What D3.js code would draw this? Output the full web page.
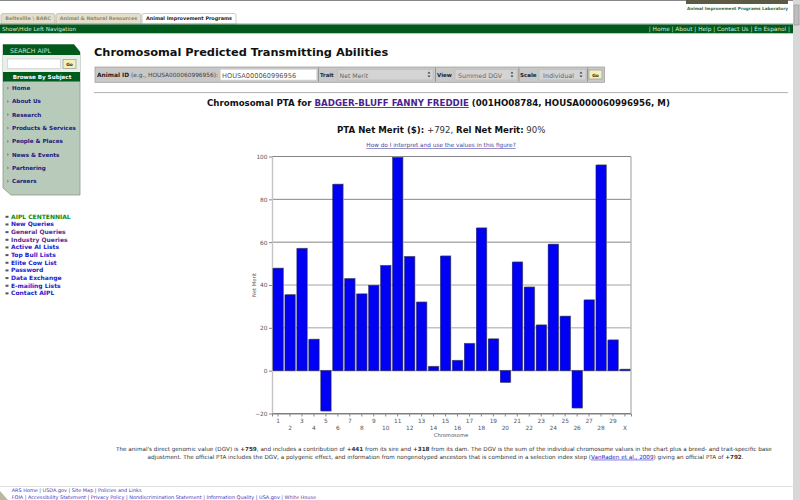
<!DOCTYPE html>
<html>
<head>
<meta charset="utf-8">
<script src="https://cdn.jsdelivr.net/npm/d3@7"></script>
<style>
  html, body { margin: 0; padding: 0; background: #fff; overflow: hidden; }
  svg { display: block; font-family: "DejaVu Sans", sans-serif; }
  .tick text { font-family: "DejaVu Sans", sans-serif; }
</style>
</head>
<body>
<svg width="800" height="500"></svg>
<script>
const chromosomes = ["1","2","3","4","5","6","7","8","9","10","11","12","13","14","15","16","17","18","19","20","21","22","23","24","25","26","27","28","29","X"];
const netMerit = [47.8,35.4,57,14.6,-18.8,87,42.9,35.8,39.8,49,99.5,53.2,32,1.9,53.5,4.7,12.6,66.6,14.8,-5.4,50.7,39,21.3,59,25.4,-17.4,33,96,14.3,0.6];
const yTicks = [-20,0,20,40,60,80,100];

const tabs = ["Beltsville \\ BARC","Animal & Natural Resources","Animal Improvement Programs"];
const topLinks = "| Home | About | Help | Contact Us | En Espanol |";
const subjectLinks = ["Home","About Us","Research","Products & Services","People & Places","News & Events","Partnering","Careers"];
const quickLinks = ["AIPL CENTENNIAL","New Queries","General Queries","Industry Queries","Active AI Lists","Top Bull Lists","Elite Cow List","Password","Data Exchange","E-mailing Lists","Contact AIPL"];
const quickColors = ["#0a8a0a","#1a1ad0","#5a2a90","#5a2a90","#1a1ad0","#1a1ad0","#1a1ad0","#1a1ad0","#1a1ad0","#1a1ad0","#1a1ad0"];

const svg = d3.select("svg");

function label(x, y, str, size, opts) {
  opts = opts || {};
  return svg.append("text")
    .attr("x", x).attr("y", y)
    .attr("font-size", size)
    .attr("font-weight", opts.bold ? "bold" : "normal")
    .attr("fill", opts.fill || "#222")
    .attr("text-anchor", opts.anchor || "start")
    .attr("text-decoration", opts.underline ? "underline" : null)
    .text(str);
}

function box(x, y, w, h, fill, stroke) {
  return svg.append("rect")
    .attr("x", x).attr("y", y).attr("width", w).attr("height", h)
    .attr("fill", fill)
    .attr("stroke", stroke || "none")
    .attr("stroke-width", stroke ? 0.7 : 0);
}

// page header
box(0, 0, 800, 1, "#888");
box(686, 0, 102, 4, "#5c5a44");
label(737.5, 9.7, "Animal Improvement Programs Laboratory", 4.2, {bold: true, fill: "#2f6b3a", anchor: "middle"});

const tabPos = [[1, 54], [56, 85], [142, 94]];
tabs.forEach((t, i) => {
  const active = i == 2;
  svg.append("path")
    .attr("d", `M${tabPos[i][0]},24 v-8.5 q0,-2 2,-2 h${tabPos[i][1] - 4} q2,0 2,2 v8.5 z`)
    .attr("fill", active ? "#fff" : "#e4dfcc")
    .attr("stroke", "#aaa").attr("stroke-width", 0.6);
  label(tabPos[i][0] + tabPos[i][1] / 2, 19.6, t, 4.9, {bold: true, fill: active ? "#222" : "#8a8a70", anchor: "middle"});
});

box(0, 23.5, 793, 1, "#999");
box(0, 24.5, 793, 8.8, "#005a1c");
label(2, 30.5, "Show\\Hide Left Navigation", 5.6, {fill: "#d8e8d8"});
label(790, 30.5, topLinks, 5.8, {fill: "#d8e8d8", anchor: "end"});

// scrollbar
box(793, 0, 7, 500, "#d8d8d8");
box(794, 5, 5, 20, "#bdbdbd", "#999");

// left navigation
svg.append("path")
  .attr("d", "M3,44.5 H74 L80,52 V195 H11 L3,188 Z")
  .attr("fill", "#b8cbba").attr("stroke", "#8a9a8a").attr("stroke-width", 0.8);
svg.append("path").attr("d", "M3,44.5 H74 L80,52 V55 H3 Z").attr("fill", "#005a1c");
box(3, 55, 77, 17, "#e8efe8");
label(10, 52.5, "SEARCH AIPL", 6.3, {fill: "#cfe0cf"});
box(7.5, 59, 53, 9.5, "#fff", "#ccc");
box(63, 59.5, 13, 9, "#f3f0b8", "#999");
label(69.5, 66, "Go", 4.4, {bold: true, anchor: "middle"});
box(3, 72, 77, 9.5, "#005a1c");
label(42, 78.8, "Browse By Subject", 5.6, {bold: true, fill: "#fff", anchor: "middle"});

subjectLinks.forEach((d, i) => {
  const y = 90 + i * 13.3;
  svg.append("path").attr("d", `M7,${y - 3.5} l2.4,1.6 l-2.4,1.6 z`).attr("fill", "#8a9a8a");
  label(12, y, d, 5.65, {bold: true, fill: "#1a1a80"});
});

quickLinks.forEach((d, i) => {
  const y = 218.8 + i * 7.66;
  box(5.5, y - 3, 3, 2, "#555");
  label(11, y, d, 6, {bold: true, fill: quickColors[i]});
});

// title and form strip
label(94, 56.3, "Chromosomal Predicted Transmitting Abilities", 11.35, {bold: true, fill: "#111"});

box(95, 67, 509.5, 15.3, "#c8c8c8", "#999");
label(97, 77, "Animal ID", 5.9, {bold: true, fill: "#222"});
label(131, 77, "(e.g., HOUSA000060996956):", 5.85, {fill: "#444"});
box(220.5, 69.5, 96, 10.5, "#fff", "#ddd");
label(222, 77.5, "HOUSA000060996956", 6.6, {fill: "#555"});
box(318, 67.5, 0.8, 14, "#888");
label(320, 77, "Trait", 5.3, {bold: true});
box(338, 69.5, 95, 10.5, "#d4d4d4", "#bbb");
label(339.5, 77.5, "Net Merit", 6.2, {fill: "#666"});
box(435, 67.5, 0.8, 14, "#888");
label(437, 77, "View", 5.5, {bold: true});
box(455, 69.5, 62, 10.5, "#d4d4d4", "#bbb");
label(458, 77.5, "Summed DGV", 6.3, {fill: "#666"});
box(518.5, 67.5, 0.8, 14, "#888");
label(520, 77, "Scale", 5.5, {bold: true});
box(539, 69.5, 47, 10.5, "#d4d4d4", "#bbb");
label(543, 77.5, "Individual", 6.4, {fill: "#666"});
box(587, 67.5, 0.8, 14, "#888");
box(589, 70, 13, 9, "#f3f0b8", "#999");
label(595.5, 76.5, "Go", 4.4, {bold: true, anchor: "middle"});
[[427.5, 71.5], [510.5, 71.5], [579.5, 71.5]].forEach(p => {
  svg.append("path").attr("d", `M${p[0]},${p[1] + 2} l1.5,-2 l1.5,2 z M${p[0]},${p[1] + 4} l1.5,2 l1.5,-2 z`).attr("fill", "#444");
});

box(94, 92.2, 694, 0.9, "#aaa");

// chart headings
const heading = label(207, 106, "Chromosomal PTA for ", 8.65, {bold: true, fill: "#111"});
heading.append("tspan").attr("fill", "#4b1f8f").attr("text-decoration", "underline").text("BADGER-BLUFF FANNY FREDDIE");
heading.append("tspan").text(" (001HO08784, HOUSA000060996956, M)");

const sub = label(337, 133, "PTA Net Merit ($):", 8.6, {bold: true, fill: "#111"});
sub.append("tspan").attr("font-weight", "normal").attr("fill", "#333").text(" +792, ");
sub.append("tspan").text("Rel Net Merit:");
sub.append("tspan").attr("font-weight", "normal").attr("fill", "#333").text(" 90%");

label(441, 147, "How do I interpret and use the values in this figure?", 5.75, {fill: "#4b3f9f", anchor: "middle", underline: true});

// the chart
const x = d3.scaleBand().domain(chromosomes).range([272, 631]).paddingInner(0.15).paddingOuter(0.08);
const y = d3.scaleLinear().domain([-20, 100]).range([413.5, 156.5]);

const chart = svg.append("g");

chart.append("g")
  .selectAll("line")
  .data(yTicks)
  .join("line")
  .attr("x1", 272).attr("x2", 631)
  .attr("y1", d => y(d)).attr("y2", d => y(d))
  .attr("stroke", d => d == 40 || d == 20 ? "#999" : "#777")
  .attr("stroke-width", 0.9);

chart.append("line").attr("x1", 272.5).attr("x2", 272.5).attr("y1", 156.5).attr("y2", 413.5).attr("stroke", "#c4c4c4").attr("stroke-width", 1.4);
chart.append("line").attr("x1", 631).attr("x2", 631).attr("y1", 156.5).attr("y2", 413.5).attr("stroke", "#b8b8b8").attr("stroke-width", 1.4);

// grey drop shadow behind each bar
chart.append("g")
  .selectAll("rect")
  .data(netMerit)
  .join("rect")
  .attr("x", (d, i) => x(chromosomes[i]) + 0.8)
  .attr("y", d => Math.min(y(d), y(0)) - 0.8)
  .attr("width", x.bandwidth())
  .attr("height", d => Math.abs(y(d) - y(0)) + 1.4)
  .attr("fill", "#b4b4b4");

chart.append("g")
  .selectAll("rect")
  .data(netMerit)
  .join("rect")
  .attr("x", (d, i) => x(chromosomes[i]))
  .attr("y", d => Math.min(y(d), y(0)))
  .attr("width", x.bandwidth())
  .attr("height", d => Math.abs(y(d) - y(0)))
  .attr("fill", "#0000f5")
  .attr("stroke", "#20205a")
  .attr("stroke-width", 0.5);

const yAxis = chart.append("g")
  .attr("transform", "translate(272,0)")
  .call(d3.axisLeft(y).tickValues(yTicks).tickSize(3).tickPadding(1.5));
yAxis.select(".domain").remove();
yAxis.selectAll("line").attr("stroke", "#888");
yAxis.selectAll("text").attr("font-size", 5.8).attr("fill", "#555");

const xAxis = chart.append("g")
  .attr("transform", "translate(0,413.5)")
  .call(d3.axisBottom(x).tickSize(3).tickPadding(1.5));
xAxis.select(".domain").attr("stroke", "#777").attr("stroke-width", 0.9);
xAxis.selectAll("line").attr("stroke", "#888");
xAxis.selectAll("text")
  .attr("font-size", 5.8).attr("fill", "#555")
  .attr("y", (d, i) => i % 2 == 0 ? 5 : 12.2);

label(451, 437.3, "Chromosome", 5.2, {fill: "#555", anchor: "middle"});
svg.append("text")
  .attr("transform", "translate(256,285) rotate(-90)")
  .attr("text-anchor", "middle")
  .attr("font-size", 5.2).attr("fill", "#555")
  .text("Net Merit");

// footnote
const note1 = label(116, 451, "The animal's direct genomic value (DGV) is ", 5.66, {fill: "#333"});
note1.append("tspan").attr("font-weight", "bold").text("+759");
note1.append("tspan").text(", and includes a contribution of ");
note1.append("tspan").attr("font-weight", "bold").text("+441");
note1.append("tspan").text(" from its sire and ");
note1.append("tspan").attr("font-weight", "bold").text("+318");
note1.append("tspan").text(" from its dam. The DGV is the sum of the individual chromosome values in the chart plus a breed- and trait-specific base");

const note2 = label(147.5, 458.7, "adjustment. The official PTA includes the DGV, a polygenic effect, and information from nongenotyped ancestors that is combined in a selection index step (", 5.66, {fill: "#333"});
note2.append("tspan").attr("fill", "#2222cc").attr("text-decoration", "underline").text("VanRaden et al., 2009");
note2.append("tspan").text(") giving an official PTA of ");
note2.append("tspan").attr("font-weight", "bold").text("+792");
note2.append("tspan").text(".");

// footer
box(0, 486, 793, 0.8, "#ddd");
svg.append("path").attr("d", "M0,491 L8,500 H0 Z").attr("fill", "#b8b8a0");
const foot1 = label(11.7, 492, "ARS Home | ", 4.95, {fill: "#3a3ac0"});
foot1.append("tspan").attr("fill", "#6a3a9a").text("USDA.gov");
foot1.append("tspan").text(" | Site Map | Policies and Links");
const foot2 = label(11.7, 498.7, "FOIA | Accessibility Statement | Privacy Policy | Nondiscrimination Statement | Information Quality | USA.gov | ", 4.95, {fill: "#3a3ac0"});
foot2.append("tspan").attr("fill", "#6a3a9a").text("White House");
</script>
</body>
</html>
